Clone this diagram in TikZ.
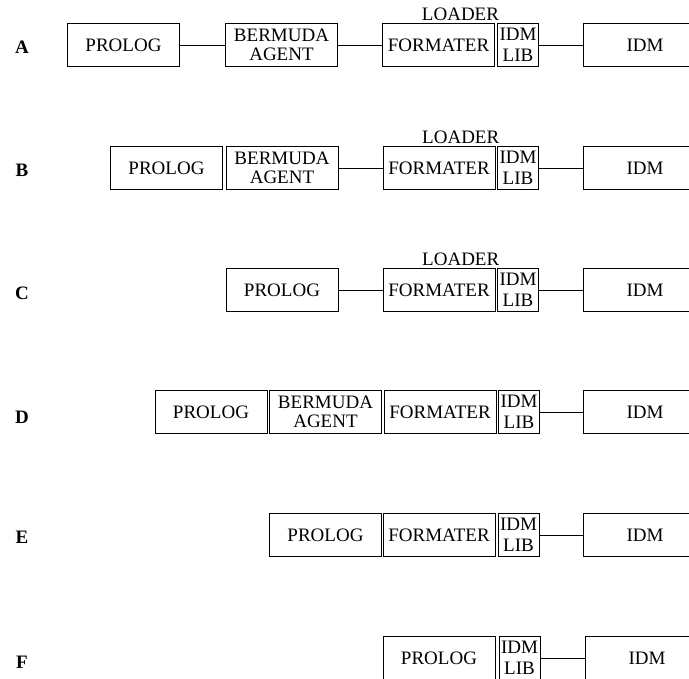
\documentclass[tikz,border=0pt]{standalone}
\usepackage{fontspec}
\setmainfont{Liberation Serif}
\usetikzlibrary{calc}

\tikzset{
	blk/.style={draw, line width=0.9pt, minimum width=112pt, minimum height=43pt, inner sep=0pt, align=center, font=\fontsize{19}{19.5}\selectfont},
	libblk/.style={blk, minimum width=41pt, font=\fontsize{19}{20.5}\selectfont},
	idmblk/.style={blk, minimum width=124pt},
	rowtag/.style={font=\fontsize{19}{19}\selectfont\bfseries},
	loadtxt/.style={anchor=base, inner sep=0pt, yshift=2.5pt, font=\fontsize{19}{19}\selectfont},
	lnk/.style={line width=0.9pt}
}

\begin{document}
\begin{tikzpicture}[x=1pt, y=-1pt]
		
		\useasboundingbox (0,0) rectangle (689,679);
		
		% Row labels
		\node[rowtag] (tagA) at (22,47) {A};
		\node[rowtag] (tagB) at (22,170) {B};
		\node[rowtag] (tagC) at (22,293) {C};
		\node[rowtag] (tagD) at (22,417) {D};
		\node[rowtag] (tagE) at (22,537) {E};
		\node[rowtag] (tagF) at (22,662) {F};
		
		% Row A
		\node[blk] (proA) at (123.5,45) {PROLOG};
		\node[blk] (bmaA) at (281.5,45) {BERMUDA\\AGENT};
		\node[blk] (fmtA) at (438.5,45) {FORMATER};
		\node[libblk] (libA) at (518,45) {IDM\\LIB};
		\node[idmblk] (idmA) at (645,45) {IDM};
		\node[loadtxt] (ldA) at ($(fmtA.north west)!0.5!(libA.north east)$) {LOADER};
		\draw[lnk] (proA) -- (bmaA);
		\draw[lnk] (bmaA) -- (fmtA);
		\draw[lnk] (libA) -- (idmA);
		
		% Row B
		\node[blk] (proB) at (166.5,168) {PROLOG};
		\node[blk] (bmaB) at (282,168) {BERMUDA\\AGENT};
		\node[blk] (fmtB) at (439,168) {FORMATER};
		\node[libblk] (libB) at (518,168) {IDM\\LIB};
		\node[idmblk] (idmB) at (645,168) {IDM};
		\node[loadtxt] (ldB) at ($(fmtB.north west)!0.5!(libB.north east)$) {LOADER};
		\draw[lnk] (bmaB) -- (fmtB);
		\draw[lnk] (libB) -- (idmB);
		
		% Row C
		\node[blk] (proC) at (282,290) {PROLOG};
		\node[blk] (fmtC) at (439,290) {FORMATER};
		\node[libblk] (libC) at (518,290) {IDM\\LIB};
		\node[idmblk] (idmC) at (645,290) {IDM};
		\node[loadtxt] (ldC) at ($(fmtC.north west)!0.5!(libC.north east)$) {LOADER};
		\draw[lnk] (proC) -- (fmtC);
		\draw[lnk] (libC) -- (idmC);
		
		% Row D
		\node[blk] (proD) at (211,412) {PROLOG};
		\node[blk] (bmaD) at (325.5,412) {BERMUDA\\AGENT};
		\node[blk] (fmtD) at (440,412) {FORMATER};
		\node[libblk] (libD) at (519,412) {IDM\\LIB};
		\node[idmblk] (idmD) at (645,412) {IDM};
		\draw[lnk] (libD) -- (idmD);
		
		% Row E
		\node[blk] (proE) at (325.5,535) {PROLOG};
		\node[blk] (fmtE) at (439,535) {FORMATER};
		\node[libblk] (libE) at (518.5,535) {IDM\\LIB};
		\node[idmblk] (idmE) at (645,535) {IDM};
		\draw[lnk] (libE) -- (idmE);
		
		% Row F
		\node[blk] (proF) at (439,658) {PROLOG};
		\node[libblk] (libF) at (519.5,658) {IDM\\LIB};
		\node[idmblk] (idmF) at (647,658) {IDM};
		\draw[lnk] (libF) -- (idmF);
		
	\end{tikzpicture}
\end{document}
